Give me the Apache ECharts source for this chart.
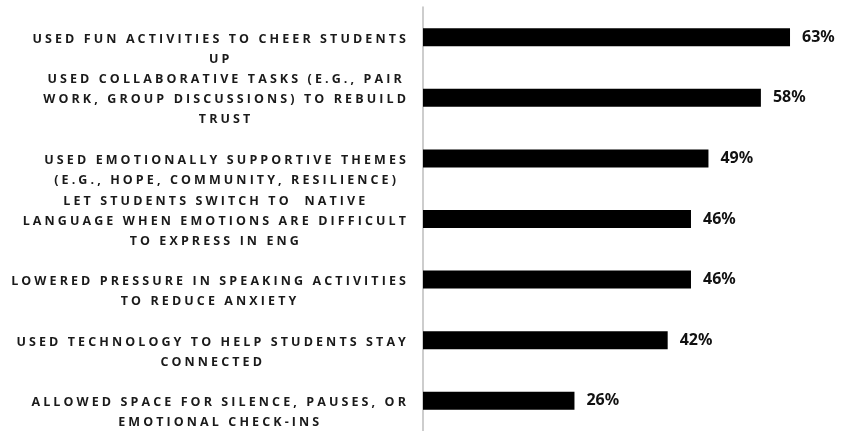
<!DOCTYPE html>
<html>
<head>
<meta charset="utf-8">
<script src="https://cdn.jsdelivr.net/npm/echarts@6/dist/echarts.min.js"></script>
<style>
  html, body { margin: 0; padding: 0; background: #fff; }
  #chart { width: 850px; height: 431px; }
</style>
</head>
<body>
<div id="chart"></div>
<script>
var categories = [
  'USED FUN ACTIVITIES TO CHEER STUDENTS\nUP',
  'USED COLLABORATIVE TASKS (E.G., PAIR\nWORK, GROUP DISCUSSIONS) TO REBUILD\nTRUST',
  'USED EMOTIONALLY SUPPORTIVE THEMES\n(E.G., HOPE, COMMUNITY, RESILIENCE)',
  'LET STUDENTS SWITCH TO  NATIVE\nLANGUAGE WHEN EMOTIONS ARE DIFFICULT\nTO EXPRESS IN ENG',
  'LOWERED PRESSURE IN SPEAKING ACTIVITIES\nTO REDUCE ANXIETY',
  'USED TECHNOLOGY TO HELP STUDENTS STAY\nCONNECTED',
  'ALLOWED SPACE FOR SILENCE, PAUSES, OR\nEMOTIONAL CHECK-INS'
];
var values = [63, 58, 49, 46, 46, 42, 26];

// spaced-out lettering for the category labels (canvas letterSpacing)
var LABEL_FONT = 'Open Sans';
var SPACING = 3.1;
var proto = CanvasRenderingContext2D.prototype;
var origFill = proto.fillText;
proto.fillText = function (t, x, y, w) {
  this.letterSpacing = this.font.indexOf(LABEL_FONT) >= 0 ? SPACING + 'px' : '0px';
  return origFill.apply(this, arguments);
};
var mctx = document.createElement('canvas').getContext('2d');
echarts.setPlatformAPI({
  measureText: function (text, font) {
    mctx.font = font;
    var w = mctx.measureText(text).width;
    if (font.indexOf(LABEL_FONT) >= 0) w += text.length * SPACING;
    return { width: w };
  }
});

var chart = echarts.init(document.getElementById('chart'));
var option = {
  animation: false,
  grid: { left: 423, right: 19.2, top: 7, bottom: 0, containLabel: false },
  xAxis: {
    type: 'value',
    min: 0,
    max: 70,
    show: false
  },
  yAxis: {
    type: 'category',
    inverse: true,
    data: categories,
    axisLine: { show: true, lineStyle: { color: '#bdbdbd', width: 1.5 } },
    axisTick: { show: false },
    axisLabel: {
      margin: 14,
      padding: [4, 0, 0, 0],
      formatter: function (v) {
        var lines = v.split('\n');
        if (lines.length === 2) lines.unshift(' ');
        return lines.map(function (l) { return '{c|' + l + '}'; }).join('\n');
      },
      rich: {
        c: {
          align: 'center',
          fontFamily: LABEL_FONT,
          fontWeight: 'bold',
          fontSize: 12.5,
          lineHeight: 20,
          color: '#1a1a1a'
        }
      }
    }
  },
  series: [{
    type: 'bar',
    data: values,
    barWidth: 18,
    itemStyle: { color: '#000' },
    label: {
      show: true,
      position: 'right',
      distance: 12,
      formatter: '{c}%',
      fontFamily: 'Noto Sans',
      fontWeight: 'bold',
      fontSize: 16,
      color: '#111'
    }
  }]
};
chart.setOption(option);
</script>
</body>
</html>
